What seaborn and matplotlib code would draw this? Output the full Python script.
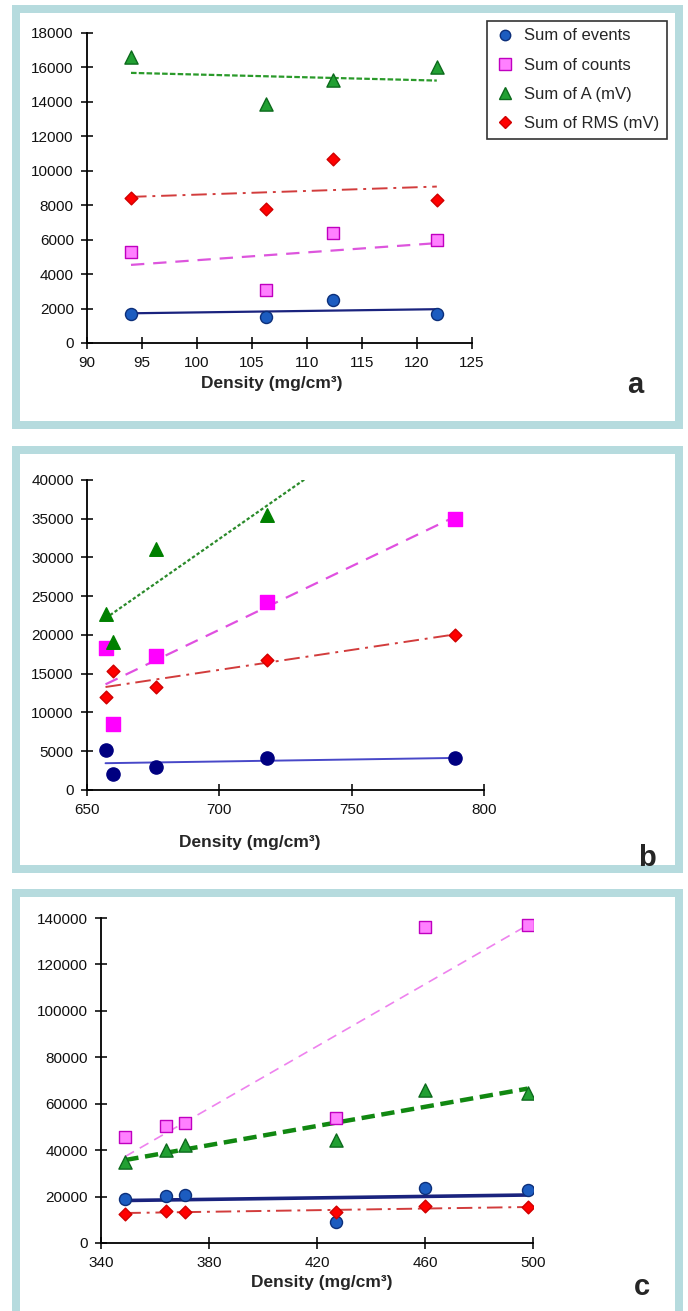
import numpy as np
import pandas as pd
import seaborn as sns
import matplotlib.pyplot as plt
from matplotlib.patches import Rectangle

# panel a
density_a = [94.0, 106.3, 112.4, 121.8]
events_a = [1700, 1500, 2500, 1700]
counts_a = [5300, 3100, 6400, 6000]
amp_a = [16600, 13900, 15300, 16000]
rms_a = [8400, 7800, 10700, 8300]

# panel b
density_b = [657, 660, 676, 718, 789]
events_b = [5200, 2000, 3000, 4100, 4100]
counts_b = [18300, 8500, 17300, 24300, 35000]
amp_b_x = [657, 660, 676, 718]
amp_b = [22700, 19100, 31100, 35500]
rms_b = [12000, 15400, 13300, 16800, 20000]

# panel c
density_c = [349, 364, 371, 427, 460, 498]
events_c = [19000, 20300, 20800, 9000, 23700, 23000]
counts_c = [45500, 50300, 51700, 53900, 136000, 137000]
amp_c = [34800, 40000, 42300, 44300, 65700, 64800]
rms_c = [12700, 13800, 13200, 13200, 15800, 15300]

labels = ["Sum of events", "Sum of counts", "Sum of A (mV)", "Sum of RMS (mV)"]
markers = ["o", "s", "^", "D"]

W, H = 688, 1311
sns.set_theme(style="white")
plt.rcParams["font.family"] = ["Liberation Sans", "DejaVu Sans"]
fig = plt.figure(figsize=(W / 100, H / 100), dpi=100)
fig.patch.set_facecolor("white")

frame_col = "#b6dbde"


def px_axes(left, right, top, bottom):
    return fig.add_axes([left / W, 1 - bottom / H, (right - left) / W, (bottom - top) / H])


def frame(x0, y0, x1, y1):
    fig.add_artist(Rectangle((x0 / W, 1 - y1 / H), (x1 - x0) / W, (y1 - y0) / H,
                             transform=fig.transFigure, facecolor=frame_col,
                             edgecolor="none", zorder=-2))
    t = 8
    fig.add_artist(Rectangle(((x0 + t) / W, 1 - (y1 - t) / H), (x1 - x0 - 2 * t) / W,
                             (y1 - y0 - 2 * t) / H, transform=fig.transFigure,
                             facecolor="white", edgecolor="none", zorder=-1))


def draw_panel(ax, series, styles, xlim, xticks, ylim, yticks, extend=None):
    ax.set_xlim(min(s[0][0] for s in series), xlim[1])
    for i, ((x, y), st) in enumerate(zip(series, styles)):
        df = pd.DataFrame({"x": x, "y": y})
        sns.regplot(data=df, x="x", y="y", ax=ax, scatter=False, ci=None,
                    truncate=(extend != i),
                    line_kws=dict(color=st["lc"], lw=st["lw"], ls=st["ls"], zorder=2))
    for i, ((x, y), st) in enumerate(zip(series, styles)):
        df = pd.DataFrame({"x": x, "y": y})
        sns.scatterplot(data=df, x="x", y="y", ax=ax, marker=markers[i], s=st["s"],
                        color=st["fc"], edgecolor=st["ec"], linewidth=1.0,
                        label=labels[i], zorder=3, legend=False)
    ax.set_xlim(*xlim)
    ax.set_ylim(*ylim)
    ax.set_xticks(xticks)
    ax.set_yticks(yticks)
    ax.set_xlabel("")
    ax.set_ylabel("")
    ax.set_facecolor("none")
    for s in ["top", "right"]:
        ax.spines[s].set_visible(False)
    for s in ["left", "bottom"]:
        ax.spines[s].set_color("black")
        ax.spines[s].set_linewidth(1.3)
        ax.spines[s].set_clip_on(False)
    ax.tick_params(direction="inout", length=9, width=1.2, labelsize=11,
                   colors="#111111", pad=5, left=True, bottom=True)


blue_ev = dict(fc="#1c5cc0", ec="#0c2f7a", lc="#1a237e", s=75)
pink = dict(fc="#ff80ff", ec="#c000c0", s=85)
green = dict(fc="#22a033", ec="#0c6a1c", s=90)
red = dict(fc="#ff0000", ec="#d00000", lc="#d23c3c", s=42)

# ---- panel a
frame(12, 5, 683, 429)
ax_a = px_axes(87, 472, 33, 343)
draw_panel(ax_a,
           [(density_a, events_a), (density_a, counts_a), (density_a, amp_a), (density_a, rms_a)],
           [dict(blue_ev, lw=1.6, ls="-"),
            dict(pink, lc="#dd55dd", lw=1.6, ls=(0, (6, 4))),
            dict(green, lc="#2a9a2a", lw=1.6, ls=(0, (2.5, 1))),
            dict(red, lw=1.4, ls=(0, (8, 3, 1.5, 3)))],
           (90, 125), np.arange(90, 126, 5), (0, 18000), np.arange(0, 18001, 2000))
handles = [plt.Line2D([], [], marker=m, ls="none", markersize=ms, markerfacecolor=st["fc"],
                      markeredgecolor=st["ec"])
           for m, st, ms in zip(markers, [blue_ev, pink, green, red], [7.5, 8, 8.5, 6])]
leg = fig.legend(handles, labels, loc="upper left", bbox_to_anchor=(487 / W, 1 - 21 / H),
                 fontsize=12, frameon=True, fancybox=False, handletextpad=0.5,
                 labelspacing=0.85, borderpad=0.45, handlelength=1.3, borderaxespad=0)
leg.get_frame().set_edgecolor("black")
leg.get_frame().set_linewidth(1.2)
fig.text(272 / W, 1 - 383 / H, "Density (mg/cm³)", ha="center", va="center",
         fontsize=12.5, fontweight="bold")
fig.text(635 / W, 1 - 385 / H, "a", ha="center", va="center", fontsize=21, fontweight="bold")

# ---- panel b
frame(12, 446, 683, 873)
ax_b = px_axes(87, 484, 480, 790)
draw_panel(ax_b,
           [(density_b, events_b), (density_b, counts_b), (amp_b_x, amp_b), (density_b, rms_b)],
           [dict(fc="#000080", ec="#000080", lc="#4848c8", s=90, lw=1.4, ls="-"),
            dict(fc="#ff00ff", ec="#ff00ff", lc="#e050e0", s=100, lw=1.6, ls=(0, (6, 4))),
            dict(fc="#008000", ec="#008000", lc="#2a8a2a", s=95, lw=1.6, ls=(0, (1.5, 1))),
            dict(red, lw=1.4, ls=(0, (8, 3, 1.5, 3)))],
           (650, 800), np.arange(650, 801, 50), (0, 40000), np.arange(0, 40001, 5000), extend=2)
fig.text(250 / W, 1 - 843 / H, "Density (mg/cm³)", ha="center", va="center",
         fontsize=12.5, fontweight="bold")
fig.text(647 / W, 1 - 858 / H, "b", ha="center", va="center", fontsize=21, fontweight="bold")

# ---- panel c
frame(12, 889, 683, 1320)
ax_c = px_axes(101, 533, 918, 1243)
draw_panel(ax_c,
           [(density_c, events_c), (density_c, counts_c), (density_c, amp_c), (density_c, rms_c)],
           [dict(blue_ev, lw=2.6, ls="-"),
            dict(pink, lc="#ee82ee", lw=1.2, ls=(0, (6, 4))),
            dict(green, lc="#118811", lw=3.2, ls=(0, (3, 1.5))),
            dict(red, lw=1.4, ls=(0, (8, 3, 1.5, 3)))],
           (340, 500), np.arange(340, 501, 40), (0, 140000), np.arange(0, 140001, 20000))
fig.text(322 / W, 1 - 1282 / H, "Density (mg/cm³)", ha="center", va="center",
         fontsize=12.5, fontweight="bold")
fig.text(642 / W, 1 - 1287 / H, "c", ha="center", va="center", fontsize=21, fontweight="bold")

fig.savefig("out.png", dpi=100)
